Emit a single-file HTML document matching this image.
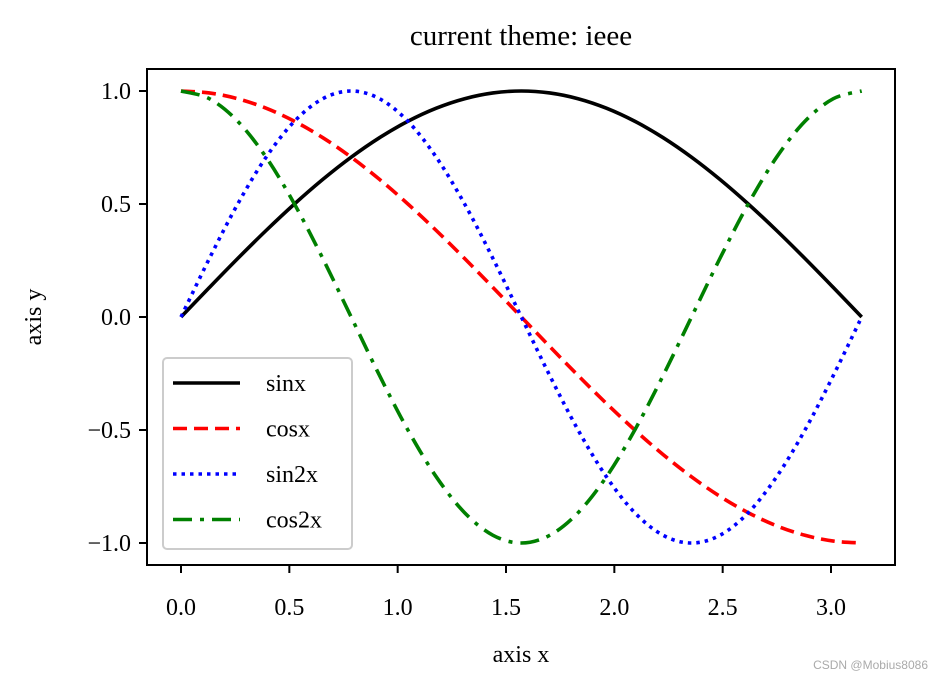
<!DOCTYPE html>
<html><head><meta charset="utf-8"><style>
body{margin:0;background:#fff;}
svg{display:block;font-family:"Liberation Serif",serif;}
</style></head><body>
<svg id="chart" width="942" height="679" viewBox="0 0 942 679">
<text x="521" y="45" font-size="29" text-anchor="middle">current theme: ieee</text>
<g id="plot"></g>
<rect x="147" y="69" width="748" height="496" fill="none" stroke="#000" stroke-width="2"/>
<g id="ticks"></g>
<text x="521" y="662" font-size="24" text-anchor="middle">axis x</text>
<text x="0" y="0" font-size="24" text-anchor="middle" transform="translate(41,317) rotate(-90)">axis y</text>
<g id="legend">
<rect x="163" y="358" width="189" height="191" rx="4" fill="#fff" fill-opacity="0.8" stroke="#ccc" stroke-width="2"/>
</g>
<text x="928" y="669" font-size="12" fill="#aaa" text-anchor="end" font-family="Liberation Sans, sans-serif">CSDN @Mobius8086</text>
</svg>
<script>
const xs = [0,0.1309,0.2618,0.3927,0.5236,0.6545,0.7854,0.9163,1.0472,1.1781,1.3090,1.4399,1.5708,1.7017,1.8326,1.9635,2.0944,2.2253,2.3562,2.4871,2.6180,2.7489,2.8798,3.0107,3.1416];
const sinx = [0,0.1305,0.2588,0.3827,0.5,0.6088,0.7071,0.7934,0.866,0.9239,0.9659,0.9914,1,0.9914,0.9659,0.9239,0.866,0.7934,0.7071,0.6088,0.5,0.3827,0.2588,0.1305,0];
const cosx = [1,0.9914,0.9659,0.9239,0.866,0.7934,0.7071,0.6088,0.5,0.3827,0.2588,0.1305,0,-0.1305,-0.2588,-0.3827,-0.5,-0.6088,-0.7071,-0.7934,-0.866,-0.9239,-0.9659,-0.9914,-1];
const sin2x = [0,0.2588,0.5,0.7071,0.866,0.9659,1,0.9659,0.866,0.7071,0.5,0.2588,0,-0.2588,-0.5,-0.7071,-0.866,-0.9659,-1,-0.9659,-0.866,-0.7071,-0.5,-0.2588,0];
const cos2x = [1,0.9659,0.866,0.7071,0.5,0.2588,0,-0.2588,-0.5,-0.7071,-0.866,-0.9659,-1,-0.9659,-0.866,-0.7071,-0.5,-0.2588,0,0.2588,0.5,0.7071,0.866,0.9659,1];
const xTicks = [0,0.5,1,1.5,2,2.5,3];
const xTickLabels = ["0.0","0.5","1.0","1.5","2.0","2.5","3.0"];
const yTicks = [1,0.5,0,-0.5,-1];
const yTickLabels = ["1.0","0.5","0.0","\u22120.5","\u22121.0"];
const seriesNames = ["sinx","cosx","sin2x","cos2x"];

const NS="http://www.w3.org/2000/svg";
function X(v){return 181+v*216.67;}
function Y(v){return 317-v*226;}
function mk(tag,attrs,parent){const e=document.createElementNS(NS,tag);for(const k in attrs)e.setAttribute(k,attrs[k]);parent.appendChild(e);return e;}
function smooth(pts){
  let d="M"+pts[0][0].toFixed(2)+","+pts[0][1].toFixed(2);
  for(let i=0;i<pts.length-1;i++){
    const p0=pts[Math.max(i-1,0)],p1=pts[i],p2=pts[i+1],p3=pts[Math.min(i+2,pts.length-1)];
    const c1=[p1[0]+(p2[0]-p0[0])/6,p1[1]+(p2[1]-p0[1])/6];
    const c2=[p2[0]-(p3[0]-p1[0])/6,p2[1]-(p3[1]-p1[1])/6];
    d+=" C"+c1[0].toFixed(2)+","+c1[1].toFixed(2)+" "+c2[0].toFixed(2)+","+c2[1].toFixed(2)+" "+p2[0].toFixed(2)+","+p2[1].toFixed(2);
  }
  return d;
}
const plot=document.getElementById('plot');
const styles=[{c:"#000",d:""},{c:"#f00",d:"14,7"},{c:"#00f",d:"3.5,5"},{c:"#008000",d:"19,8,4,8"}];
const data=[sinx,cosx,sin2x,cos2x];
data.forEach((s,i)=>{
  const p=mk('path',{d:smooth(s.map((v,j)=>[X(xs[j]),Y(v)])),fill:"none",stroke:styles[i].c,"stroke-width":3.6,"stroke-dasharray":styles[i].d},plot);
  
  
});
const tk=document.getElementById('ticks');
xTicks.forEach((v,i)=>{
  const l=mk('line',{x1:X(v),x2:X(v),y1:565,y2:573,stroke:"#000","stroke-width":2},tk);
  
  
  const t=mk('text',{x:X(v),y:615,"font-size":24,"text-anchor":"middle"},tk);
  t.textContent=xTickLabels[i];
  
  
});
yTicks.forEach((v,i)=>{
  const l=mk('line',{x1:139,x2:147,y1:Y(v),y2:Y(v),stroke:"#000","stroke-width":2},tk);
  
  
  const t=mk('text',{x:131,y:Y(v)+8,"font-size":24,"text-anchor":"end"},tk);
  t.textContent=yTickLabels[i];
  
  
});
const lg=document.getElementById('legend');
seriesNames.forEach((n,i)=>{
  const y=383+i*45.5;
  const l=mk('line',{x1:173,x2:240,y1:y,y2:y,stroke:styles[i].c,"stroke-width":3.6,"stroke-dasharray":styles[i].d},lg);
  
  
  const t=mk('text',{x:266,y:y+8,"font-size":24},lg);
  t.textContent=n;
  
  
});
</script>
</body></html>
